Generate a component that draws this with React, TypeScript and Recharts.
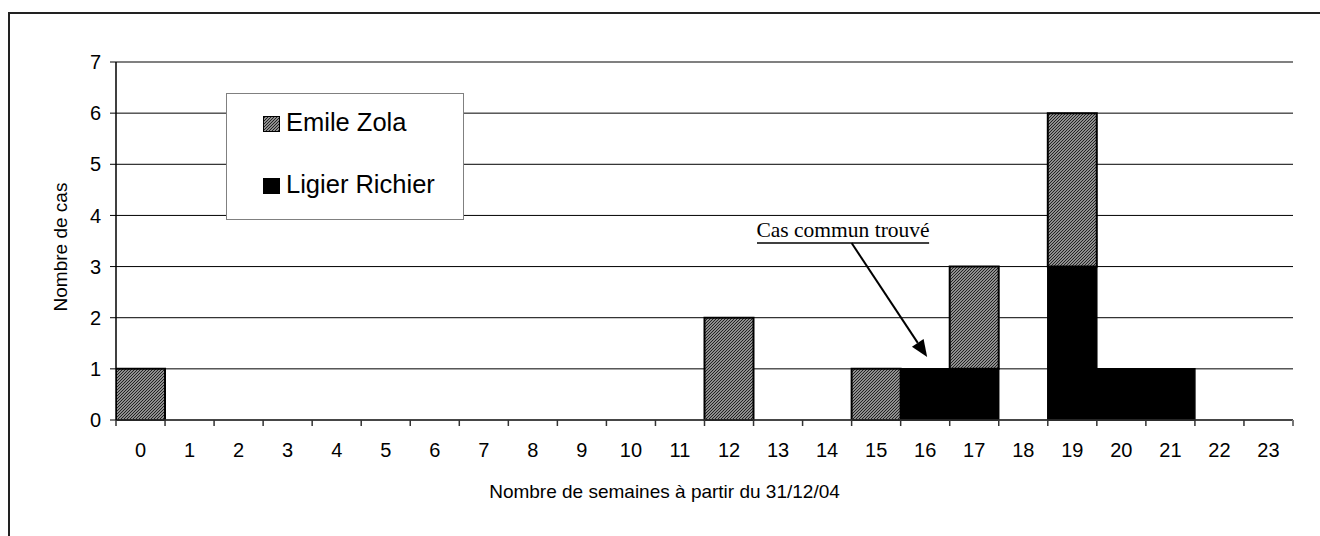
import React from "react";
import { Bar, BarChart, CartesianGrid, ReferenceLine, XAxis, YAxis } from "recharts";

const W = 1320;
const H = 536;
const FONT = "'Liberation Sans', Arial, sans-serif";
const SERIF = "'Liberation Serif', 'Times New Roman', serif";

// weeks since 31/12/04
const weeks = [
  0, 1, 2, 3, 4, 5, 6, 7, 8, 9, 10, 11,
  12, 13, 14, 15, 16, 17, 18, 19, 20, 21, 22, 23,
];
const weekEdges = [
  0, 1, 2, 3, 4, 5, 6, 7, 8, 9, 10, 11, 12,
  13, 14, 15, 16, 17, 18, 19, 20, 21, 22, 23, 24,
];
const emileZola = [1, 0, 0, 0, 0, 0, 0, 0, 0, 0, 0, 0, 2, 0, 0, 1, 0, 2, 0, 3, 0, 0, 0, 0];
const ligierRichier = [0, 0, 0, 0, 0, 0, 0, 0, 0, 0, 0, 0, 0, 0, 0, 0, 1, 1, 0, 3, 1, 1, 0, 0];
const yTicks = [0, 1, 2, 3, 4, 5, 6, 7];

// annotation, in data units (week, cases)
const noteText = "Cas commun trouvé";
const noteUnderline = [
  { x: 13.07, y: 3.46 },
  { x: 16.58, y: 3.46 },
];
const noteArrow = [
  { x: 15.0, y: 3.46 },
  { x: 16.54, y: 1.23 },
];

// each week is drawn as a bin [w, w+1)
const data = weeks.map((w, i) => ({
  mid: w + 0.5,
  zola: emileZola[i],
  richier: ligierRichier[i],
}));

const M = { top: 62, right: 27, left: 0, bottom: 0 };
const Y_W = 116;
const X_H = 116;
const HALF_BAND = (W - M.right - Y_W) / weeks.length / 2;

function Hatch({ id }: { id: string }) {
  return (
    <pattern id={id} patternUnits="userSpaceOnUse" width={3} height={3}>
      <rect width={3} height={3} fill="#bdbdbd" />
      <path d="M-1,1 L1,-1 M0,3 L3,0 M2,4 L4,2" stroke="#1a1a1a" strokeWidth={1.1} />
    </pattern>
  );
}

function WeekTick(props: any) {
  const { x, y, payload } = props;
  const last = payload.value >= weeks.length;
  return (
    <g>
      <line
        x1={x}
        x2={x}
        y1={y}
        y2={y + 6}
        stroke={last ? "#777" : "#333"}
        strokeWidth={last ? 2 : 1.5}
      />
      {!last && (
        <text x={x + HALF_BAND} y={y + 37} textAnchor="middle" fontSize={20} fontFamily={FONT} fill="#000">
          {payload.value}
        </text>
      )}
    </g>
  );
}

function Underlined(props: any) {
  const { x1, y1, x2, y2 } = props;
  return (
    <g>
      <line x1={x1} y1={y1} x2={x2} y2={y2} stroke="#000" strokeWidth={1.5} />
      <text x={(x1 + x2) / 2} y={y1 - 6} textAnchor="middle" fontSize={21.5} fontFamily={SERIF} fill="#000">
        {noteText}
      </text>
    </g>
  );
}

function Arrow(props: any) {
  const { x1, y1, x2, y2 } = props;
  const dx = x2 - x1;
  const dy = y2 - y1;
  const len = Math.sqrt(dx * dx + dy * dy);
  const ux = dx / len;
  const uy = dy / len;
  const hl = 17;
  const hw = 7;
  const bx = x2 - ux * hl;
  const by = y2 - uy * hl;
  const pts = `${x2},${y2} ${bx - uy * hw},${by + ux * hw} ${bx + uy * hw},${by - ux * hw}`;
  return (
    <g>
      <line x1={x1} y1={y1} x2={bx} y2={by} stroke="#000" strokeWidth={2} />
      <polygon points={pts} fill="#000" />
    </g>
  );
}

function ChartLegend() {
  const items = [
    { name: "Emile Zola", fill: "url(#hatchLegend)" },
    { name: "Ligier Richier", fill: "#000" },
  ];
  return (
    <div
      style={{
        position: "absolute",
        left: 226,
        top: 93,
        width: 236,
        height: 125,
        border: "1px solid #808080",
        background: "#fff",
        fontFamily: FONT,
        fontSize: 25.5,
        color: "#000",
      }}
    >
      <svg width={0} height={0} style={{ position: "absolute" }}>
        <defs>
          <Hatch id="hatchLegend" />
        </defs>
      </svg>
      {items.map((it, i) => (
        <div
          key={it.name}
          style={{
            position: "absolute",
            left: 36,
            top: 13 + i * 62,
            display: "flex",
            alignItems: "center",
            lineHeight: "30px",
            whiteSpace: "nowrap",
          }}
        >
          <svg width={17} height={16} style={{ marginRight: 6, marginTop: 4 }}>
            <rect x={0.5} y={0.5} width={16} height={15} fill={it.fill} stroke="#000" />
          </svg>
          <span>{it.name}</span>
        </div>
      ))}
    </div>
  );
}

export default function App() {
  return (
    <div style={{ position: "absolute", left: 0, top: 0, width: W, height: H, overflow: "hidden", background: "#fff" }}>
      <div
        style={{
          position: "absolute",
          left: 8,
          top: 12,
          width: W + 20,
          height: H + 20,
          borderTop: "2px solid #222",
          borderLeft: "2px solid #222",
        }}
      />
      <BarChart width={W} height={H} data={data} margin={M} barCategoryGap={0} barGap={0}>
        <defs>
          <Hatch id="hatchZola" />
        </defs>
        <CartesianGrid vertical={false} stroke="#000" strokeWidth={1} />
        <XAxis
          dataKey="mid"
          type="number"
          domain={[0, weeks.length]}
          ticks={weekEdges}
          interval={0}
          allowDataOverflow
          height={X_H}
          tickSize={0}
          tickMargin={0}
          tickLine={false}
          tick={<WeekTick />}
          axisLine={{ stroke: "#333", strokeWidth: 1.5 }}
          label={{
            content: (p: any) => (
              <text
                x={p.viewBox.x + p.viewBox.width / 2 - 40}
                y={p.viewBox.y + 78}
                textAnchor="middle"
                fontSize={19}
                fontFamily={FONT}
                fill="#000"
              >
                Nombre de semaines à partir du 31/12/04
              </text>
            ),
          }}
        />
        <YAxis
          width={Y_W}
          domain={[0, 7]}
          ticks={yTicks}
          interval={0}
          tickSize={6}
          tickMargin={9}
          tick={{ fontSize: 20, fontFamily: FONT, fill: "#000" }}
          tickLine={{ stroke: "#000", strokeWidth: 1 }}
          axisLine={{ stroke: "#000", strokeWidth: 1.5 }}
          label={{
            content: (p: any) => {
              const cx = 60;
              const cy = p.viewBox.y + p.viewBox.height / 2 + 6;
              return (
                <text
                  x={cx}
                  y={cy}
                  transform={`rotate(-90 ${cx} ${cy})`}
                  textAnchor="middle"
                  dominantBaseline="central"
                  fontSize={19}
                  fontFamily={FONT}
                  fill="#000"
                >
                  Nombre de cas
                </text>
              );
            },
          }}
        />
        <YAxis
          yAxisId="right"
          orientation="right"
          width={0}
          domain={[0, 7]}
          tick={false}
          tickLine={false}
          axisLine={{ stroke: "#808080", strokeWidth: 2 }}
        />
        <ReferenceLine y={7} stroke="#808080" strokeWidth={2} />
        <Bar
          dataKey="richier"
          name="Ligier Richier"
          stackId="cas"
          fill="#000"
          stroke="#000"
          strokeWidth={1.5}
          isAnimationActive={false}
        />
        <Bar
          dataKey="zola"
          name="Emile Zola"
          stackId="cas"
          fill="url(#hatchZola)"
          stroke="#000"
          strokeWidth={2}
          isAnimationActive={false}
        />
        <ReferenceLine segment={noteUnderline} shape={<Underlined />} ifOverflow="visible" />
        <ReferenceLine segment={noteArrow} shape={<Arrow />} ifOverflow="visible" />
      </BarChart>
      <ChartLegend />
    </div>
  );
}
